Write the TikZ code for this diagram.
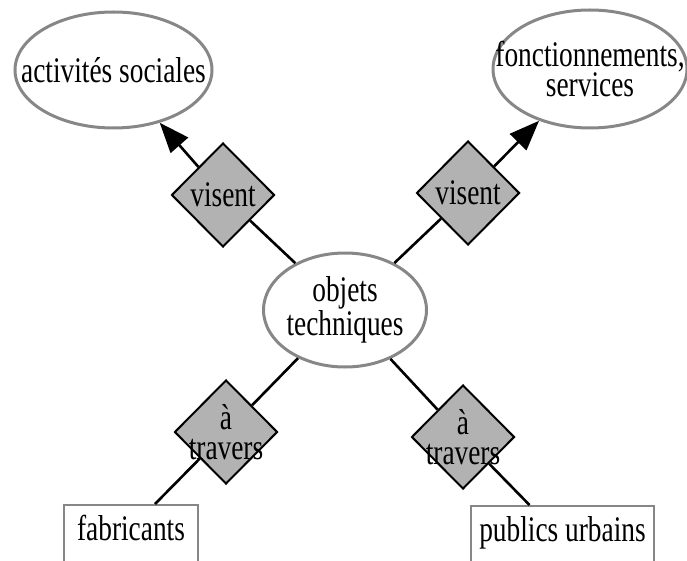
\documentclass[tikz,border=0pt]{standalone}
\usepackage{fontspec}
\setmainfont{Liberation Serif}[FakeStretch=0.76]
\usetikzlibrary{shapes.geometric,positioning,arrows.meta}
\definecolor{bordgray}{gray}{0.53}
\definecolor{relfill}{gray}{0.7}

\begin{document}
\begin{tikzpicture}[x=1pt,y=-1pt,on grid,>={Triangle[length=30pt,width=23pt]},
  font=\fontsize{36}{29.5}\selectfont,
  concept/.style={ellipse,draw=bordgray,line width=3pt,inner sep=-30pt,minimum height=116pt,align=center},
  rel/.style={diamond,draw,fill=relfill,line width=2pt,inner sep=-15pt,minimum width=103pt,minimum height=104pt,align=center},
  actor/.style={rectangle,draw=bordgray,line width=2pt,inner sep=8pt,text height=27pt,text depth=30pt},
  link/.style={line width=2.6pt}]
  \useasboundingbox (0,0) rectangle (687,561);
  \clip (0,0) rectangle (687,561);

  \node[concept,minimum width=163pt,minimum height=114pt] (obj) at (345,310) {objets\\techniques};
  \node[rel]   (vis1) [above left=115pt and 122pt of obj]  {visent};
  \node[rel]   (vis2) [above right=117pt and 123pt of obj] {visent};
  \node[rel]   (tra1) [below left=122pt and 119pt of obj]  {à\\travers};
  \node[rel]   (tra2) [below right=127pt and 118pt of obj] {à\\travers};
  \node[concept,minimum width=197pt] (soc) [above left=125pt and 109.5pt of vis1] {activités sociales};
  \node[concept,minimum width=194pt,minimum height=118pt] (fonc) [above right=124pt and 122pt of vis2] {fonctionnements,\\services};
  \node[actor,minimum width=134pt] (fab) [below left=109.5pt and 95pt of tra1] {fabricants};
  \node[actor,minimum width=177pt] (pub) [below right=105.5pt and 99.5pt of tra2] {publics urbains};

  \path[link] (obj) edge (vis1)
        (vis1) edge[->] (soc)
        (obj) edge (vis2)
        (vis2) edge[->] (fonc)
        (obj) edge (tra1)
        (tra1) edge ([xshift=24pt]fab.north)
        (obj) edge (tra2)
        (tra2) edge ([xshift=-33pt]pub.north);
\end{tikzpicture}
\end{document}
